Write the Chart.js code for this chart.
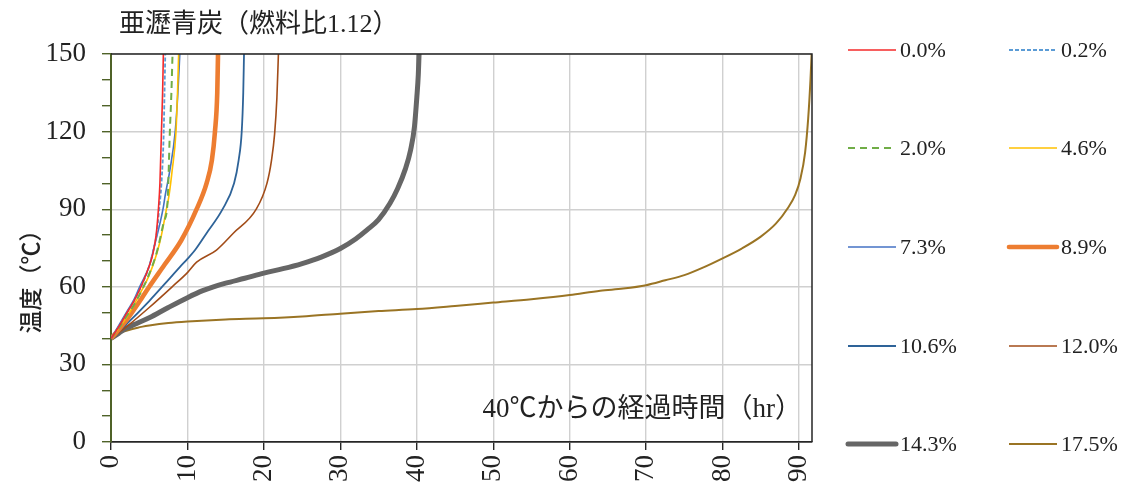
<!DOCTYPE html>
<html>
<head>
<meta charset="utf-8">
<script src="https://cdn.jsdelivr.net/npm/chart.js@4/dist/chart.umd.min.js"></script>
<style>
  html, body { margin: 0; padding: 0; background: #ffffff; }
  #wrap { width: 1126px; height: 489px; }
</style>
</head>
<body>
<div id="wrap"><canvas id="c" width="1126" height="489"></canvas></div>
<script>
// 亜瀝青炭（燃料比1.12）: temperature rise from 40℃ for each moisture content
const chartTitle = '亜瀝青炭（燃料比1.12）';
const yTitle = '温度（℃）';
const xNote = '40℃からの経過時間（hr）';
const seriesNames = ['0.0%', '0.2%', '2.0%', '4.6%', '7.3%', '8.9%', '10.6%', '12.0%', '14.3%', '17.5%'];
const xTickValues = [0, 10, 20, 30, 40, 50, 60, 70, 80, 90];
const yTickValues = [0, 30, 60, 90, 120, 150];

// elapsed hours / temperature (℃) per series
const hours_0_0 = [0, 1, 2, 3, 4, 5, 5.5, 5.9, 6.2, 6.4, 6.6, 6.75, 6.85];
const temps_0_0 = [40, 44.5, 49.5, 54.5, 60.5, 68, 73, 80, 90, 100, 120, 135, 150];

const hours_0_2 = [0, 1, 2, 3, 4, 5, 5.6, 6.0, 6.3, 6.6, 6.9, 7.0, 7.1];
const temps_0_2 = [40, 44.5, 49.5, 54.5, 60.5, 68, 75, 81, 90, 100, 120, 135, 150];

const hours_2_0 = [0, 1, 2, 3, 4, 5, 6, 6.9, 7.4, 7.7, 7.9, 8.05];
const temps_2_0 = [40, 44, 48.5, 53, 58.5, 65, 73.5, 85, 93, 120, 135, 150];

const hours_4_6 = [0, 1, 2, 3, 4, 5, 6, 6.6, 7.25, 7.6, 8.0, 8.5, 8.7, 8.85];
const temps_4_6 = [40, 44, 48, 53, 58.5, 64.5, 73, 80, 90, 95.5, 105, 120, 135, 150];

const hours_7_3 = [0, 1, 2, 3, 3.75, 5, 5.7, 6.8, 7.1, 7.7, 8.4, 8.75, 9.0];
const temps_7_3 = [40, 45, 50, 55, 60, 68, 76, 90, 95.5, 105, 120, 135, 150];

const hours_8_9 = [0, 2, 4, 5, 7, 9.2, 11.2, 12.5, 13.2, 13.6, 13.9, 14.0];
const temps_8_9 = [40, 47, 55.5, 60, 68.5, 78, 90, 100, 109, 120, 135, 150];

const hours_10_6 = [0, 2, 5, 7, 9, 10, 11, 12.5, 14.6, 16.1, 16.7, 17.1, 17.3, 17.4];
const temps_10_6 = [40, 45.5, 54.5, 61, 67.6, 70.8, 74.2, 80.7, 90, 100, 109, 120, 135, 150];

const hours_12_0 = [0, 2, 5, 8, 10, 11.2, 13.8, 16, 19, 20.4, 21.0, 21.4, 21.7, 21.9];
const temps_12_0 = [40, 44.5, 52, 60, 65.5, 69.5, 74.2, 80.7, 90, 100, 109, 119, 133, 150];

const hours_14_3 = [0, 1, 2, 3.5, 5, 7.5, 10, 12, 13.4, 15, 17.5, 20, 22.5, 25, 27.5, 30, 32, 33.5, 35, 36.5, 37.5, 38.5, 39.2, 39.7, 40.0, 40.2, 40.3];
const temps_14_3 = [40, 42, 44, 46, 48, 52, 55.8, 58.5, 60, 61.4, 63.3, 65.3, 67, 69, 71.5, 74.8, 78.5, 82, 86, 92.3, 98, 105.5, 113, 122, 133, 142, 150];

const hours_17_5 = [0, 0.5, 1, 2, 3.5, 5, 7.5, 10, 15, 20, 25, 30, 35, 40, 45, 50, 55, 60, 64, 67, 70, 72.5, 75, 77.5, 80, 82.5, 85, 87, 88.5, 89.5, 90.2, 90.8, 91.2, 91.5, 91.65];
const temps_17_5 = [40, 41, 42, 43, 44.2, 45, 46, 46.6, 47.4, 47.8, 48.5, 49.6, 50.6, 51.4, 52.6, 53.9, 55.2, 56.8, 58.5, 59.3, 60.6, 62.5, 64.5, 67.5, 71, 74.8, 79.4, 84.5, 90.3, 95.5, 102, 112, 125, 140, 150];

const seriesHours = [hours_0_0, hours_0_2, hours_2_0, hours_4_6, hours_7_3, hours_8_9, hours_10_6, hours_12_0, hours_14_3, hours_17_5];
const seriesTemps = [temps_0_0, temps_0_2, temps_2_0, temps_4_6, temps_7_3, temps_8_9, temps_10_6, temps_12_0, temps_14_3, temps_17_5];

// line styles
const lineColors = ['#f52a2a', '#5b9bd5', '#70ad47', '#ffc000', '#4472c4', '#ed7d31', '#2e6398', '#a24c18', '#666666', '#9a7424'];
const lineWidths = [1.6, 1.8, 2, 1.6, 1.6, 4.6, 1.8, 1.6, 5, 2];
const lineDashes = [[], [4, 2], [7, 5], [], [], [], [], [], [], []];

const datasets = seriesNames.map((name, i) => ({
  label: name,
  data: seriesHours[i].map((h, k) => ({ x: h, y: seriesTemps[i][k] })),
  borderColor: lineColors[i],
  backgroundColor: lineColors[i],
  borderWidth: lineWidths[i],
  borderDash: lineDashes[i],
  pointRadius: 0,
  fill: false,
  cubicInterpolationMode: 'monotone',
  borderCapStyle: 'butt'
}));

const SERIF = "'Liberation Serif', 'Noto Sans CJK JP', serif";
const TEXT = '#222222';

// frame, titles, note and the two-column legend
const decorations = {
  id: 'decorations',
  afterDraw(chart) {
    const ctx = chart.ctx;
    const a = chart.chartArea;
    ctx.save();
    // top and right frame lines
    ctx.strokeStyle = '#262626';
    ctx.lineWidth = 1.5;
    ctx.beginPath();
    ctx.moveTo(a.left, a.top);
    ctx.lineTo(a.right, a.top);
    ctx.lineTo(a.right, a.bottom);
    ctx.stroke();

    // chart title
    ctx.fillStyle = TEXT;
    ctx.font = "26px " + SERIF;
    ctx.textAlign = 'left';
    ctx.textBaseline = 'middle';
    ctx.fillText(chartTitle, 119, 25);

    // note inside plot
    ctx.font = "27px " + SERIF;
    ctx.textAlign = 'right';
    ctx.fillText(xNote, 802, 410);

    // y axis title
    ctx.save();
    ctx.translate(30, 276);
    ctx.rotate(-Math.PI / 2);
    ctx.font = "500 23px 'Noto Sans CJK JP', sans-serif";
    ctx.textAlign = 'center';
    ctx.fillText(yTitle, 0, 0);
    ctx.restore();

    // legend
    const colX = [848, 1009];
    const rowY = [50, 148, 247, 346, 444];
    ctx.font = "22px " + SERIF;
    ctx.textAlign = 'left';
    ctx.textBaseline = 'middle';
    chart.data.datasets.forEach((ds, i) => {
      const x0 = colX[i % 2];
      const y = rowY[Math.floor(i / 2)];
      ctx.save();
      ctx.strokeStyle = ds.borderColor;
      ctx.lineWidth = ds.borderWidth;
      ctx.setLineDash(ds.borderDash || []);
      ctx.lineCap = ds.borderWidth > 3 ? 'round' : 'butt';
      ctx.beginPath();
      ctx.moveTo(x0, y);
      ctx.lineTo(x0 + 48, y);
      ctx.stroke();
      ctx.restore();
      ctx.fillStyle = TEXT;
      ctx.fillText(ds.label, x0 + 52, y + 1);
    });
    ctx.restore();
  }
};

new Chart(document.getElementById('c'), {
  type: 'line',
  data: { datasets },
  options: {
    responsive: false,
    animation: false,
    layout: { padding: { top: 54, right: 314, left: 0, bottom: 0 } },
    plugins: { legend: { display: false }, tooltip: { enabled: false }, title: { display: false } },
    scales: {
      x: {
        type: 'linear',
        min: 0,
        max: 91.7,
        afterFit(scale) { scale.height = 47; },
        afterBuildTicks(scale) { scale.ticks = xTickValues.map(v => ({ value: v })); },
        ticks: {
          autoSkip: false,
          minRotation: 90,
          maxRotation: 90,
          padding: 5,
          color: TEXT,
          font: { family: SERIF, size: 27 },
          callback: v => String(v)
        },
        grid: {
          color: '#d0d0d0',
          lineWidth: 1.4,
          tickColor: '#262626',
          tickLength: 8,
          drawOnChartArea: true
        },
        border: { color: '#262626', width: 1.8 }
      },
      y: {
        type: 'linear',
        min: 0,
        max: 150,
        afterFit(scale) { scale.width = 111; },
        afterBuildTicks(scale) {
          const t = [];
          for (let v = 0; v <= 150; v += 10) t.push({ value: v });
          scale.ticks = t;
        },
        ticks: {
          autoSkip: false,
          padding: 16,
          color: TEXT,
          font: { family: SERIF, size: 27 },
          callback: v => (yTickValues.includes(v) ? String(v) : '')
        },
        grid: {
          color: ctx => (ctx.tick && ctx.tick.value % 30 === 0 && ctx.tick.value !== 0 ? '#d0d0d0' : 'rgba(0,0,0,0)'),
          lineWidth: 1.4,
          tickColor: '#4f6228',
          tickLength: 9
        },
        border: { color: '#4f6228', width: 2 }
      }
    }
  },
  plugins: [decorations]
});
</script>
</body>
</html>
